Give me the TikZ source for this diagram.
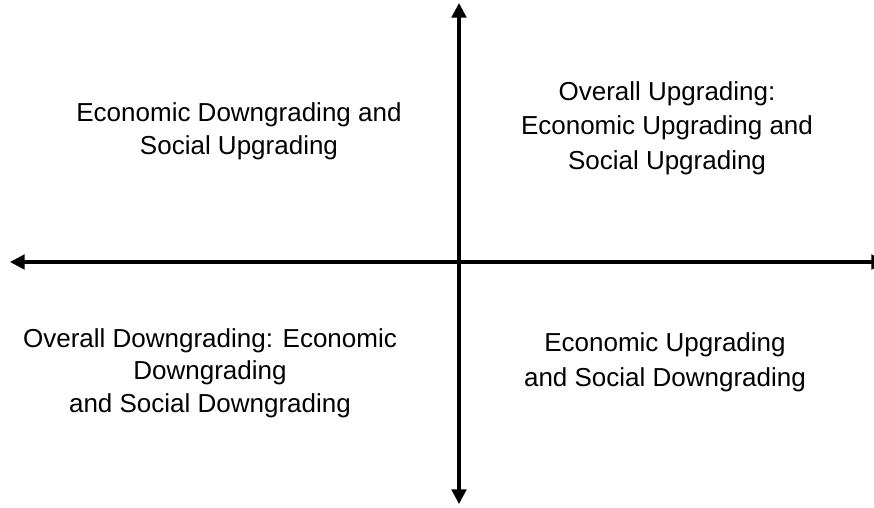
\documentclass[tikz,border=0pt]{standalone}
\usepackage{fontspec}
\setmainfont{Liberation Sans}
\usetikzlibrary{arrows.meta}
\begin{document}
\begin{tikzpicture}[x=0.75pt,y=-0.75pt,
  axis/.style={line width=2.3pt,-{Triangle[width=11pt,length=11pt]}},
  lbl/.style={align=center,font=\fontsize{19.5}{24.5}\selectfont,inner sep=0pt}]
\useasboundingbox (0,0) rectangle (874,507);
\clip (0,0) rectangle (874,507);
\coordinate (c) at (459,262);
\coordinate (top) at (459,3);
\coordinate (bot) at (459,504);
\coordinate (lft) at (10,262);
\coordinate (rgt) at (886,262);
\draw[axis] (c) -- (top);
\draw[axis] (c) -- (bot);
\draw[axis] (c) -- (lft);
\draw[axis] (c) -- (rgt);
\node[lbl] (tl) at (239,131) {Economic Downgrading and\\Social Upgrading};
\node[lbl,font=\fontsize{19.5}{26}\selectfont] (tr) at (667,128) {Overall Upgrading:\\Economic Upgrading and\\Social Upgrading};
\node[lbl] (bl) at (210,373) {Overall Downgrading: Economic\\Downgrading\\and Social Downgrading};
\node[lbl,font=\fontsize{19.5}{26}\selectfont] (br) at (665,362) {Economic Upgrading\\and Social Downgrading};
\end{tikzpicture}
\end{document}
